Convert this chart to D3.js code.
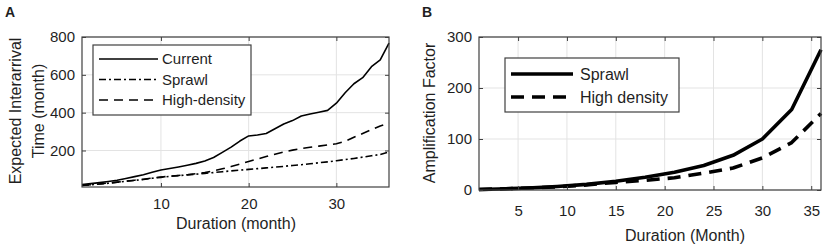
<!DOCTYPE html>
<html>
<head>
<meta charset="utf-8">
<script src="https://cdn.jsdelivr.net/npm/d3@7"></script>
<style>
  body { margin: 0; background: #fff; }
  text { font-family: "Liberation Sans", Arial, sans-serif; fill: #1f1f1f; }
</style>
</head>
<body>
<div id="container"></div>
<script>
// panel A data (month 1..36)
let monthsA = d3.range(1, 37);
let currentA = [20, 25, 30, 36, 43, 52, 62, 72, 85, 97, 105, 113, 122, 132, 145, 163, 190, 218,
  250, 277, 282, 290, 315, 340, 358, 382, 393, 402, 412, 450, 505, 553, 585, 643, 679, 767];
let sprawlA = [15, 19, 23, 27, 32, 37, 42, 47, 53, 58, 63, 67, 71, 75, 79, 83, 88, 92,
  96, 100, 104, 108, 112, 116, 121, 125, 130, 135, 140, 146, 152, 158, 165, 172, 179, 192];
let highA = [15, 19, 23, 28, 33, 38, 43, 48, 54, 60, 64, 68, 72, 77, 83, 92, 103, 115,
  128, 142, 155, 168, 180, 192, 202, 210, 217, 223, 229, 236, 248, 270, 290, 310, 330, 345];
let xTicksA = [10, 20, 30];
let yTicksA = [200, 400, 600, 800];

// panel B data
let monthsB = [1, 3, 6, 9, 12, 15, 18, 21, 24, 27, 30, 33, 36];
let sprawlB = [1, 2, 4, 7, 11, 17, 25, 35, 48, 68, 100, 158, 275];
let highB = [1, 2, 4, 6, 10, 15, 19, 24, 33, 43, 63, 93, 150];
let xTicksB = [5, 10, 15, 20, 25, 30, 35];
let yTicksB = [0, 100, 200, 300];

let w = 829;
let h = 247;

let viz = d3.select("#container")
  .append("svg")
    .attr("width", w)
    .attr("height", h)
;

function drawPanel(opt){
  let x = d3.scaleLinear().domain(opt.xDomain).range([opt.left, opt.right]);
  let y = d3.scaleLinear().domain(opt.yDomain).range([opt.bottom, opt.top]);
  let g = viz.append("g");

  // grid
  g.selectAll(".gx").data(opt.xTicks).enter().append("line")
    .attr("x1", d => x(d)).attr("x2", d => x(d))
    .attr("y1", opt.top).attr("y2", opt.bottom)
    .attr("stroke", "#e3e3e3").attr("stroke-width", 1);
  g.selectAll(".gy").data(opt.yTicks).enter().append("line")
    .attr("x1", opt.left).attr("x2", opt.right)
    .attr("y1", d => y(d)).attr("y2", d => y(d))
    .attr("stroke", "#e3e3e3").attr("stroke-width", 1);

  // series
  let line = d3.line().x(d => x(d[0])).y(d => y(d[1]));
  opt.series.forEach(function(s){
    g.append("path")
      .datum(opt.xs.map((m, i) => [m, s.values[i]]))
      .attr("d", line)
      .attr("fill", "none")
      .attr("stroke", "#000")
      .attr("stroke-width", s.width)
      .attr("stroke-dasharray", s.dash)
      .attr("stroke-linejoin", "round");
  });

  // axes (MATLAB-ish: inward ticks on all four sides)
  let tl = 4;
  g.append("g").attr("transform", "translate(0," + opt.bottom + ")")
    .call(d3.axisBottom(x).tickValues(opt.xTicks).tickSizeInner(-tl).tickSizeOuter(0).tickPadding(opt.xPad));
  g.append("g").attr("transform", "translate(0," + opt.top + ")")
    .call(d3.axisTop(x).tickValues(opt.xTicks).tickSizeInner(-tl).tickSizeOuter(0).tickFormat(""));
  g.append("g").attr("transform", "translate(" + opt.left + ",0)")
    .call(d3.axisLeft(y).tickValues(opt.yTicks).tickSizeInner(-tl).tickSizeOuter(0).tickPadding(7));
  g.append("g").attr("transform", "translate(" + opt.right + ",0)")
    .call(d3.axisRight(y).tickValues(opt.yTicks).tickSizeInner(-tl).tickSizeOuter(0).tickFormat(""));
  g.selectAll(".domain").remove();
  g.selectAll(".tick line").attr("stroke", "#404040");
  g.selectAll(".tick text")
    .attr("font-size", "15px")
    .attr("font-family", "Liberation Sans, Arial, sans-serif")
    .attr("fill", "#1f1f1f");

  g.append("rect")
    .attr("x", opt.left).attr("y", opt.top)
    .attr("width", opt.right - opt.left).attr("height", opt.bottom - opt.top)
    .attr("fill", "none").attr("stroke", "#404040").attr("stroke-width", 1.2);

  return {x: x, y: y, g: g};
}

// ---------- panel A ----------
let pA = drawPanel({
  left: 82, right: 389, top: 37, bottom: 187,
  xDomain: [1, 36], yDomain: [7, 800],
  xTicks: xTicksA, yTicks: yTicksA, xs: monthsA, xPad: 11,
  series: [
    {values: currentA, width: 1.6, dash: null},
    {values: sprawlA, width: 1.6, dash: "7,3,2,3"},
    {values: highA, width: 1.6, dash: "9,6"}
  ]
});

viz.append("text").text("A")
  .attr("x", 5).attr("y", 17)
  .attr("font-size", "14px").attr("font-weight", "bold").attr("fill", "#000");

viz.append("text").text("Duration (month)")
  .attr("x", 236).attr("y", 223).attr("dy", "0.35em")
  .attr("text-anchor", "middle").attr("font-size", "16px");

viz.append("g").attr("transform", "translate(15,111) rotate(-90)")
  .append("text").text("Expected Interarrival")
  .attr("text-anchor", "middle").attr("dy", "0.35em").attr("font-size", "16px");
viz.append("g").attr("transform", "translate(38,111) rotate(-90)")
  .append("text").text("Time (month)")
  .attr("text-anchor", "middle").attr("dy", "0.35em").attr("font-size", "16px");

// legend A
let legA = [
  {name: "Current", dash: null},
  {name: "Sprawl", dash: "7,3,2,3"},
  {name: "High-density", dash: "9,6"}
];
viz.append("rect")
  .attr("x", 93).attr("y", 45).attr("width", 158).attr("height", 70)
  .attr("fill", "#fff").attr("stroke", "#404040").attr("stroke-width", 1.2);
legA.forEach(function(d, i){
  let yy = 59 + i * 20.5;
  viz.append("line")
    .attr("x1", 99).attr("x2", 158).attr("y1", yy).attr("y2", yy)
    .attr("stroke", "#000").attr("stroke-width", 1.6).attr("stroke-dasharray", d.dash);
  viz.append("text").text(d.name)
    .attr("x", 162).attr("y", yy).attr("dy", "0.35em").attr("font-size", "15px");
});

// ---------- panel B ----------
let pB = drawPanel({
  left: 479, right: 821, top: 37, bottom: 190,
  xDomain: [1, 36], yDomain: [0, 300],
  xTicks: xTicksB, yTicks: yTicksB, xs: monthsB, xPad: 15,
  series: [
    {values: sprawlB, width: 3.6, dash: null},
    {values: highB, width: 3.6, dash: "13,8"}
  ]
});

viz.append("text").text("B")
  .attr("x", 422).attr("y", 17)
  .attr("font-size", "14px").attr("font-weight", "bold").attr("fill", "#000");

viz.append("text").text("Duration (Month)")
  .attr("x", 685).attr("y", 235).attr("dy", "0.35em")
  .attr("text-anchor", "middle").attr("font-size", "16px");

viz.append("g").attr("transform", "translate(429,113) rotate(-90)")
  .append("text").text("Amplification Factor")
  .attr("text-anchor", "middle").attr("dy", "0.35em").attr("font-size", "16px");

// legend B
let legB = [
  {name: "Sprawl", dash: null},
  {name: "High density", dash: "13,8"}
];
viz.append("rect")
  .attr("x", 505).attr("y", 58).attr("width", 174).attr("height", 54)
  .attr("fill", "#fff").attr("stroke", "#404040").attr("stroke-width", 1.2);
legB.forEach(function(d, i){
  let yy = 74 + i * 23;
  viz.append("line")
    .attr("x1", 511).attr("x2", 573).attr("y1", yy).attr("y2", yy)
    .attr("stroke", "#000").attr("stroke-width", 3.6).attr("stroke-dasharray", d.dash);
  viz.append("text").text(d.name)
    .attr("x", 580).attr("y", yy).attr("dy", "0.35em").attr("font-size", "16px");
});
</script>
</body>
</html>
